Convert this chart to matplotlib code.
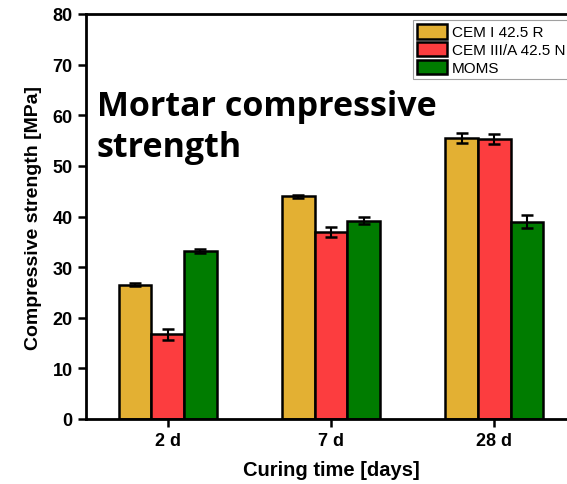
import matplotlib
matplotlib.use('Agg')
import matplotlib.pyplot as plt
import numpy as np

plt.rcParams['font.family'] = ['Liberation Sans', 'DejaVu Sans']

# data
categories = ['2 d', '7 d', '28 d']
series = ['CEM I 42.5 R', 'CEM III/A 42.5 N', 'MOMS']
cem1 = [26.5, 44.0, 55.5]
cem1_err = [0.3, 0.3, 1.0]
cem3 = [16.7, 37.0, 55.3]
cem3_err = [1.0, 1.0, 1.0]
moms = [33.2, 39.2, 39.0]
moms_err = [0.4, 0.7, 1.2]
colors = ['#E3B033', '#FC3D3F', '#007C00']

fig = plt.figure(figsize=(5.67, 4.85), dpi=100)
# axes extends past right edge (cropped like the reference)
ax = fig.add_axes([86/567, (485-420)/485, (576-86)/567, (420-15)/485])

x = np.arange(len(categories))
w = 0.2
vals = [cem1, cem3, moms]
errs = [cem1_err, cem3_err, moms_err]
for k in range(3):
    ax.bar(x + (k - 1) * w, vals[k], width=w, color=colors[k],
           edgecolor='black', linewidth=1.8, label=series[k], zorder=2)
    ax.errorbar(x + (k - 1) * w, vals[k], yerr=errs[k], fmt='none',
                ecolor='black', elinewidth=1.5, capsize=4, capthick=1.8, zorder=3)

ax.set_xlim(-0.5, 2.5)
ax.set_ylim(0, 80)
ax.set_yticks(range(0, 81, 10))
ax.set_xticks(x)
ax.set_xticklabels(categories)
for lab in ax.get_xticklabels() + ax.get_yticklabels():
    lab.set_fontweight('bold')
    lab.set_fontsize(13)
ax.tick_params(direction='out', width=1.8, length=6)
for s in ax.spines.values():
    s.set_linewidth(2)
ax.spines['right'].set_visible(False)

ax.set_xlabel('Curing time [days]', fontsize=14.5, fontweight='bold', labelpad=8)
ax.set_ylabel('Compressive strength [MPa]', fontsize=14, fontweight='bold', labelpad=8)

ax.text(0.022, 0.815, 'Mortar compressive\nstrength', transform=ax.transAxes,
        fontsize=24.5, fontweight='bold', family=['Open Sans', 'DejaVu Sans'],
        va='top', ha='left', linespacing=1.27)

leg = ax.legend(loc='upper left', bbox_to_anchor=(327/490, 0.985), fontsize=11,
                frameon=True, fancybox=False, edgecolor='#888888',
                handlelength=2.0, handleheight=1.1, handletextpad=0.3,
                labelspacing=0.15, borderpad=0.25, borderaxespad=0)
leg.get_frame().set_linewidth(0.8)

plt.savefig('out.png', dpi=100, facecolor='white')
